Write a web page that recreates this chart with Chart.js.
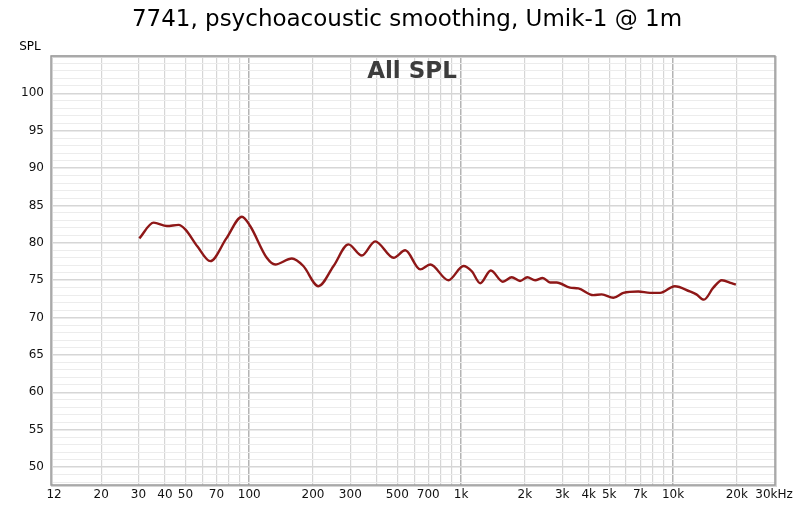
<!DOCTYPE html>
<html>
<head>
<meta charset="utf-8">
<script src="https://cdn.jsdelivr.net/npm/chart.js@4/dist/chart.umd.min.js"></script>
<style>
  html, body { margin: 0; padding: 0; background: #fff; }
  #wrap { width: 800px; height: 508px; }
</style>
</head>
<body>
<div id="wrap"><canvas id="spl"></canvas></div>
<script>
// frequency (Hz) and level (dB SPL)
var freqs = [30.3, 35.4, 40.9, 46.4, 49.9, 57, 65.5, 78, 92.4, 101, 121, 132.6, 159, 180, 212, 250, 294, 340, 393, 480, 545, 641, 715, 871, 1026, 1123, 1230, 1381, 1573, 1734, 1897, 2054, 2235, 2428, 2630, 2826, 3266, 3574, 4207, 4610, 5233, 5834, 6858, 7790, 8688, 10200, 12000, 12900, 14000, 15500, 17000, 18900, 19800];
var spl = [80.6, 82.7, 82.25, 82.4, 81.8, 79.5, 77.55, 80.6, 83.5, 82.25, 78.0, 77.1, 77.9, 76.9, 74.2, 76.9, 79.8, 78.3, 80.2, 78.0, 79.0, 76.45, 77.1, 75.0, 76.9, 76.2, 74.6, 76.3, 74.8, 75.4, 74.9, 75.4, 75.0, 75.3, 74.7, 74.7, 74.0, 73.9, 73.0, 73.1, 72.65, 73.3, 73.5, 73.3, 73.3, 74.2, 73.5, 73.1, 72.4, 74.0, 75.0, 74.6, 74.4];

var xTicks = [12, 20, 30, 40, 50, 60, 70, 80, 90, 100, 200, 300, 400, 500, 600, 700, 800, 900, 1000, 2000, 3000, 4000, 5000, 6000, 7000, 8000, 9000, 10000, 20000, 30000];
var xLabels = {12: '12', 20: '20', 30: '30', 40: '40', 50: '50', 70: '70', 100: '100', 200: '200', 300: '300', 500: '500', 700: '700', 1000: '1k', 2000: '2k', 3000: '3k', 4000: '4k', 5000: '5k', 7000: '7k', 10000: '10k', 20000: '20k', 30000: '30kHz'};
var yLabels = [50, 55, 60, 65, 70, 75, 80, 85, 90, 95, 100];

var pts = freqs.map((f, i) => ({ x: f, y: spl[i] }));

// title, "SPL", "All SPL" and the frame
var decor = {
    id: 'decor',
    afterDraw(chart) {
        var ctx = chart.ctx;
        var a = chart.chartArea;
        ctx.save();
        ctx.fillStyle = '#000';
        ctx.textAlign = 'center';
        ctx.textBaseline = 'middle';
        ctx.font = '23px "DejaVu Sans"';
        ctx.fillText('7741, psychoacoustic smoothing, Umik-1 @ 1m', 407, 20);
        ctx.font = '12px "DejaVu Sans"';
        ctx.fillText('SPL', 30, 47);
        ctx.font = 'bold 23px "DejaVu Sans"';
        ctx.fillStyle = '#3c3c3c';
        ctx.fillText('All SPL', 412, 72);
        // frame with a faint shadow
        ctx.strokeStyle = '#d4d4d4';
        ctx.lineWidth = 2;
        ctx.strokeRect(a.left + 1, a.top + 1, a.right - a.left, a.bottom - a.top);
        ctx.strokeStyle = '#9a9a9a';
        ctx.lineWidth = 1.5;
        ctx.strokeRect(a.left, a.top, a.right - a.left, a.bottom - a.top);
        ctx.restore();
    }
};

new Chart(document.getElementById('spl'), {
    type: 'line',
    data: {
        datasets: [{
            data: pts,
            borderColor: '#8e1717',
            borderWidth: 2.4,
            pointRadius: 0,
            cubicInterpolationMode: 'monotone',
            fill: false
        }]
    },
    options: {
        responsive: true,
        maintainAspectRatio: false,
        animation: false,
        layout: { padding: { top: 56, right: 25, left: 0, bottom: 0 } },
        plugins: { legend: { display: false }, tooltip: { enabled: false } },
        scales: {
            x: {
                type: 'logarithmic',
                min: 11.6,
                max: 30300,
                afterBuildTicks: axis => { axis.ticks = xTicks.map(v => ({ value: v })); },
                afterFit: axis => { axis.height = 23; },
                ticks: {
                    autoSkip: false,
                    maxRotation: 0,
                    padding: 3,
                    color: '#111',
                    font: { family: 'DejaVu Sans', size: 12 },
                    callback: v => xLabels[v] || ''
                },
                grid: {
                    drawTicks: false,
                    color: c => {
                        var v = c.tick && c.tick.value;
                        if (v == 12 || v == 30000) return 'rgba(0,0,0,0)';
                        if (v == 100 || v == 1000 || v == 10000) return '#b4b4b4';
                        return '#d6d6d6';
                    },
                    lineWidth: c => {
                        var v = c.tick && c.tick.value;
                        return (v == 100 || v == 1000 || v == 10000) ? 1.5 : 1.2;
                    }
                },
                border: { display: false }
            },
            y: {
                min: 47.6,
                max: 105,
                afterBuildTicks: axis => {
                    var t = [];
                    for (var v = 48; v <= 105; v++) t.push({ value: v });
                    axis.ticks = t;
                },
                afterFit: axis => { axis.width = 51; },
                ticks: {
                    autoSkip: false,
                    padding: 7,
                    color: '#111',
                    font: { family: 'DejaVu Sans', size: 12 },
                    callback: v => yLabels.indexOf(v) >= 0 ? String(v) : ''
                },
                grid: {
                    drawTicks: false,
                    color: c => (c.tick && c.tick.value % 5 == 0) ? '#d6d6d6' : '#ececec',
                    lineWidth: c => (c.tick && c.tick.value % 5 == 0) ? 1.5 : 1
                },
                border: { display: false }
            }
        }
    },
    plugins: [decor]
});
</script>
</body>
</html>
